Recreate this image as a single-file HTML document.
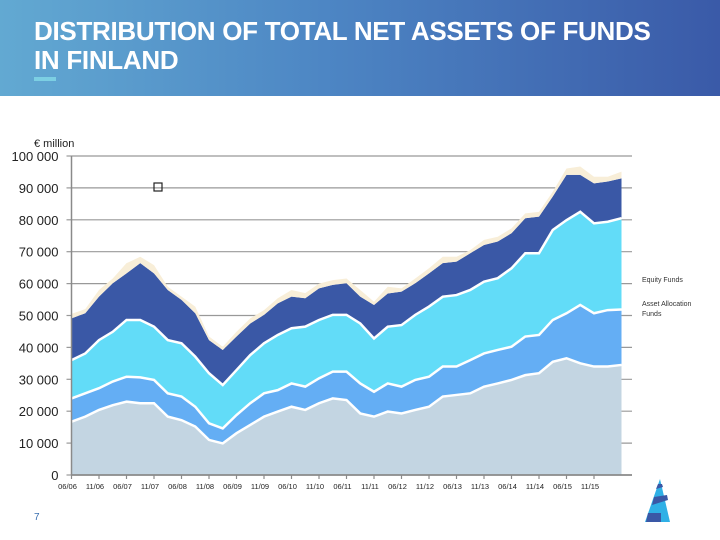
<!DOCTYPE html>
<html><head><meta charset="utf-8"><style>
body{margin:0;width:720px;height:540px;overflow:hidden;background:#fff;font-family:"Liberation Sans",sans-serif}
#hdr{position:absolute;left:0;top:0;width:720px;height:96px;background:linear-gradient(90deg,#62a9d2 0%,#4d86c4 45%,#3a5aa8 100%)}
#title{position:absolute;left:34px;top:17px;color:#fff;font-weight:bold;font-size:26px;line-height:29px;letter-spacing:-0.3px}
#acc{position:absolute;left:34px;top:77px;width:22px;height:4px;background:#7ccfe3}
svg{position:absolute;left:0;top:0}
</style></head><body>
<div id="hdr"></div>
<div id="title">DISTRIBUTION OF TOTAL NET ASSETS OF FUNDS<br>IN FINLAND</div>
<div id="acc"></div>
<svg id="chart" width="720" height="540"></svg>
<script>
const xLabels=["06/06","11/06","06/07","11/07","06/08","11/08","06/09","11/09","06/10","11/10","06/11","11/11","06/12","11/12","06/13","11/13","06/14","11/14","06/15","11/15"];
const yTicks=[0,10000,20000,30000,40000,50000,60000,70000,80000,90000,100000];
const otherFunds=[16.7,18.3,20.4,21.9,23.0,22.5,22.5,18.3,17.2,15.2,11.0,9.9,13.1,15.7,18.3,19.9,21.4,20.4,22.5,24.0,23.5,19.3,18.3,19.9,19.3,20.4,21.4,24.6,25.1,25.6,27.7,28.7,29.8,31.3,31.9,35.5,36.6,35.0,34.0,34.0,34.5];
const assetAllocationFunds=[7.3,7.3,6.8,7.4,7.8,8.1,7.3,7.3,7.4,6.2,5.2,4.7,5.7,6.8,7.3,6.7,7.3,7.3,7.8,8.4,8.9,9.4,7.8,8.8,8.4,9.4,9.4,9.4,8.9,10.4,10.4,10.5,10.4,12.1,12.0,13.1,14.1,18.3,16.7,17.7,17.4];
const equityFunds=[12.0,12.5,15.1,15.6,17.8,18.0,16.7,16.7,16.7,15.7,15.7,13.6,14.1,15.1,15.7,17.3,17.3,18.8,18.3,17.8,17.8,18.8,16.7,17.8,19.3,20.4,22.0,21.9,22.4,22.0,22.5,22.5,24.6,26.1,25.6,28.2,29.2,29.2,28.2,27.7,28.6];
const bondFunds=[13.1,12.6,13.6,15.2,14.6,17.8,16.7,15.7,13.6,13.6,10.4,11.0,10.5,9.9,8.9,9.9,9.9,8.9,9.9,9.4,9.9,8.4,10.5,10.4,10.5,9.9,10.4,10.5,10.5,11.5,11.5,11.5,11.0,11.0,11.5,10.5,14.2,11.6,12.5,12.6,12.5];
const moneyMarketFunds=[1.4,1.3,2.1,1.5,3.2,2.0,2.6,1.0,1.0,2.1,1.1,1.0,1.5,1.6,1.5,1.6,2.1,1.6,1.5,1.5,1.5,2.1,1.0,2.1,1.0,1.5,1.6,2.0,1.5,1.0,1.6,1.5,1.5,1.5,1.5,1.5,2.0,2.6,2.1,1.5,2.1];

const NS="http://www.w3.org/2000/svg";
const svg=document.getElementById('chart');
const X0=71.5,XS=27.5,Y0=475,YT=156;
function xLab(i){return X0+XS*i;}
function xPt(i){return X0+XS*i/2;}
function y(v){return Y0-(v/100)*(Y0-YT);}
function mk(t,a,p){const e=document.createElementNS(NS,t);for(const k in a)e.setAttribute(k,a[k]);(p||svg).appendChild(e);return e;}
yTicks.forEach((v,i)=>{
  const yy=y(v/1000);
  if(v>0){const g=mk('line',{x1:X0,x2:632,y1:yy,y2:yy,stroke:'#999','stroke-width':1.2});
  
  }
  const tk=mk('line',{x1:X0-5,x2:X0,y1:yy,y2:yy,stroke:'#999','stroke-width':1.2});
  
  
  const t=mk('text',{x:X0-13,y:yy+5,'text-anchor':'end','font-size':13,fill:'#222'});
  t.textContent=v.toLocaleString('en-US').replace(/,/g,' ');
  
  
});
const series=[otherFunds,assetAllocationFunds,equityFunds,bondFunds,moneyMarketFunds];
const names=['other-funds-area','asset-allocation-area','equity-funds-area','bond-funds-area','money-market-area'];
const colors=['#c3d5e2','#64aef4','#62dcf8','#3a58a6','#f8eed8'];
const n=otherFunds.length;
let base=new Array(n).fill(0);
const tops=[];
series.forEach((s,k)=>{
  const top=s.map((v,i)=>base[i]+v);
  let d='M'+xPt(0)+','+y(top[0]);
  for(let i=1;i<n;i++)d+='L'+xPt(i)+','+y(top[i]);
  for(let i=n-1;i>=0;i--)d+='L'+xPt(i)+','+y(base[i]);
  const p=mk('path',{d:d+'Z',fill:colors[k]});
  
  
  tops.push(top);base=top;
});
for(let k=0;k<3;k++){
  const pts=tops[k].map((v,i)=>xPt(i)+','+y(v)).join(' ');
  const l=mk('polyline',{points:pts,fill:'none',stroke:'#fff','stroke-width':2.5});
  
  
}
const ya=mk('line',{x1:X0,x2:X0,y1:YT,y2:Y0,stroke:'#8a8a8a','stroke-width':1.5});


const xa=mk('line',{x1:X0,x2:632,y1:Y0,y2:Y0,stroke:'#8a8a8a','stroke-width':1.8});


xLabels.forEach((s,i)=>{
  const tk=mk('line',{x1:xLab(i),x2:xLab(i),y1:Y0,y2:Y0+4,stroke:'#8a8a8a','stroke-width':1.2});
  
  
  const t=mk('text',{x:xLab(i)-4,y:Y0+14,'text-anchor':'middle','font-size':7.5,fill:'#222'});
  t.textContent=s;
  
  
});
</script>
<svg width="720" height="540">
<text x="34" y="147" font-size="11" fill="#222">€ million</text>
<rect x="154" y="183" width="8" height="8" fill="none" stroke="#222" stroke-width="1.2"/>
<text x="642" y="282" font-size="7" fill="#333">Equity Funds</text>
<text x="642" y="306" font-size="7" fill="#333">Asset Allocation</text>
<text x="642" y="316" font-size="7" fill="#333">Funds</text>
<text x="34" y="520" font-size="10" fill="#3a6fb0">7</text>
<g>
<polygon points="660,479 670,522 645,522" fill="#2fb0e6"/>
<polygon points="652,505 668,500 667,495 654,497" fill="#3a58a6"/>
<polygon points="646,522 661,522 661,513 648,513" fill="#3a58a6"/>
<polygon points="656,489 663,487 662,484 658,484" fill="#3a58a6"/>
</g>
</svg>
</body></html>
